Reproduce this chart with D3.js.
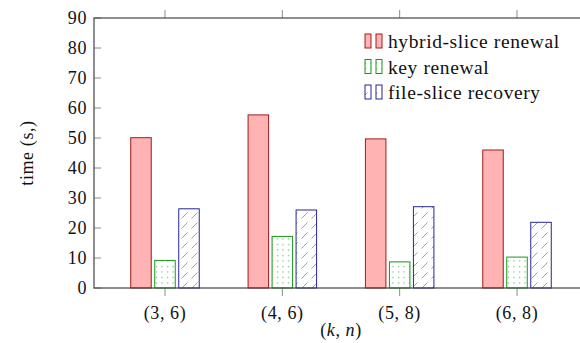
<!DOCTYPE html>
<html>
<head>
<meta charset="utf-8">
<script src="https://cdn.jsdelivr.net/npm/d3@7"></script>
<style>
  body { margin: 0; background: #fff; }
</style>
</head>
<body>
<svg id="chart" width="580" height="343"></svg>
<script>
// data
var categories = [["3", "6"], ["4", "6"], ["5", "8"], ["6", "8"]];
var hybridSlice = [50.1, 57.7, 49.7, 46.0];
var keyRenewal = [9.2, 17.2, 8.7, 10.3];
var fileSlice = [26.4, 26.0, 27.1, 21.9];
var seriesNames = ["hybrid-slice renewal", "key renewal", "file-slice recovery"];
var yTicks = [0, 10, 20, 30, 40, 50, 60, 70, 80, 90];

var svg = d3.select("#chart")
  .attr("font-family", "'Liberation Serif', 'Times New Roman', serif")
  .style("letter-spacing", "0.6px");

var plotLeft = 94, plotRight = 588, plotTop = 18, plotBottom = 288;

var x = d3.scaleLinear().domain([-0.605, categories.length - 1 + 0.605]).range([plotLeft, plotRight]);
var y = d3.scaleLinear().domain([0, 90]).range([plotBottom, plotTop]);

// patterns
var defs = svg.append("defs");
var dots = defs.append("pattern")
  .attr("id", "dots").attr("patternUnits", "userSpaceOnUse")
  .attr("width", 5.5).attr("height", 5.5);
dots.append("circle").attr("cx", 2.5).attr("cy", 2.5).attr("r", 0.7).attr("fill", "#55c055");

var hatch = defs.append("pattern")
  .attr("id", "hatch").attr("patternUnits", "userSpaceOnUse")
  .attr("width", 10).attr("height", 10);
hatch.append("path").attr("d", "M1.5,8.5 L7.5,2.5")
  .attr("stroke", "#7474ec").attr("stroke-width", 0.75);

var series = [
  { name: seriesNames[0], values: hybridSlice, fill: "#ffb3b3", stroke: "#a31a1a", off: -24 },
  { name: seriesNames[1], values: keyRenewal, fill: "url(#dots)", stroke: "#169616", off: 0 },
  { name: seriesNames[2], values: fileSlice, fill: "url(#hatch)", stroke: "#262696", off: 24 }
];
var barW = 20.5;

// bars
series.forEach(function (s) {
  svg.append("g").selectAll("rect")
    .data(s.values)
    .enter().append("rect")
    .attr("x", function (d, i) { return x(i) + s.off - barW / 2; })
    .attr("y", function (d) { return y(d); })
    .attr("width", barW)
    .attr("height", function (d) { return y(0) - y(d); })
    .attr("fill", s.fill)
    .attr("stroke", s.stroke)
    .attr("stroke-width", 1);
});

// ticks
var tickColor = "#8a8a8a";
var g = svg.append("g").attr("fill", "#111");
yTicks.forEach(function (t) {
  g.append("line").attr("x1", plotLeft).attr("x2", plotLeft + 7).attr("y1", y(t)).attr("y2", y(t))
    .attr("stroke", tickColor).attr("stroke-width", 1);
  g.append("line").attr("x1", plotRight - 7).attr("x2", plotRight).attr("y1", y(t)).attr("y2", y(t))
    .attr("stroke", tickColor).attr("stroke-width", 1);
  g.append("text").attr("x", 87).attr("y", y(t) + 6).attr("text-anchor", "end")
    .attr("font-size", 18).text(t);
});
categories.forEach(function (c, i) {
  g.append("line").attr("x1", x(i)).attr("x2", x(i)).attr("y1", plotBottom).attr("y2", plotBottom + 8)
    .attr("stroke", tickColor).attr("stroke-width", 1);
  g.append("line").attr("x1", x(i)).attr("x2", x(i)).attr("y1", plotTop - 8).attr("y2", plotTop)
    .attr("stroke", tickColor).attr("stroke-width", 1);
  g.append("text").attr("x", x(i)).attr("y", 319).attr("text-anchor", "middle")
    .attr("font-size", 18).text("(" + c[0] + ", " + c[1] + ")");
});

// frame
svg.append("rect").attr("x", plotLeft).attr("y", plotTop)
  .attr("width", plotRight - plotLeft).attr("height", plotBottom - plotTop)
  .attr("fill", "none").attr("stroke", "#444").attr("stroke-width", 1.2);

// axis labels
var xl = svg.append("text").attr("x", (plotLeft + plotRight) / 2).attr("y", 336)
  .attr("text-anchor", "middle").attr("font-size", 18).attr("fill", "#111");
xl.append("tspan").text("(");
xl.append("tspan").attr("font-style", "italic").text("k");
xl.append("tspan").text(", ");
xl.append("tspan").attr("font-style", "italic").text("n");
xl.append("tspan").text(")");

svg.append("text").attr("transform", "translate(33," + ((plotTop + plotBottom) / 2) + ") rotate(-90)")
  .attr("text-anchor", "middle").attr("font-size", 18).attr("fill", "#111").text("time (s,)");

// legend
var legend = svg.append("g");
series.forEach(function (s, i) {
  var ly = 48 + i * 25.5;
  [365, 376].forEach(function (lx) {
    legend.append("rect").attr("x", lx).attr("y", ly - 14).attr("width", 6).attr("height", 14)
      .attr("fill", s.fill).attr("stroke", s.stroke).attr("stroke-width", 1);
  });
  legend.append("text").attr("x", 388).attr("y", ly).attr("font-size", 19.5)
    .attr("fill", "#111").text(s.name);
});
</script>
</body>
</html>
